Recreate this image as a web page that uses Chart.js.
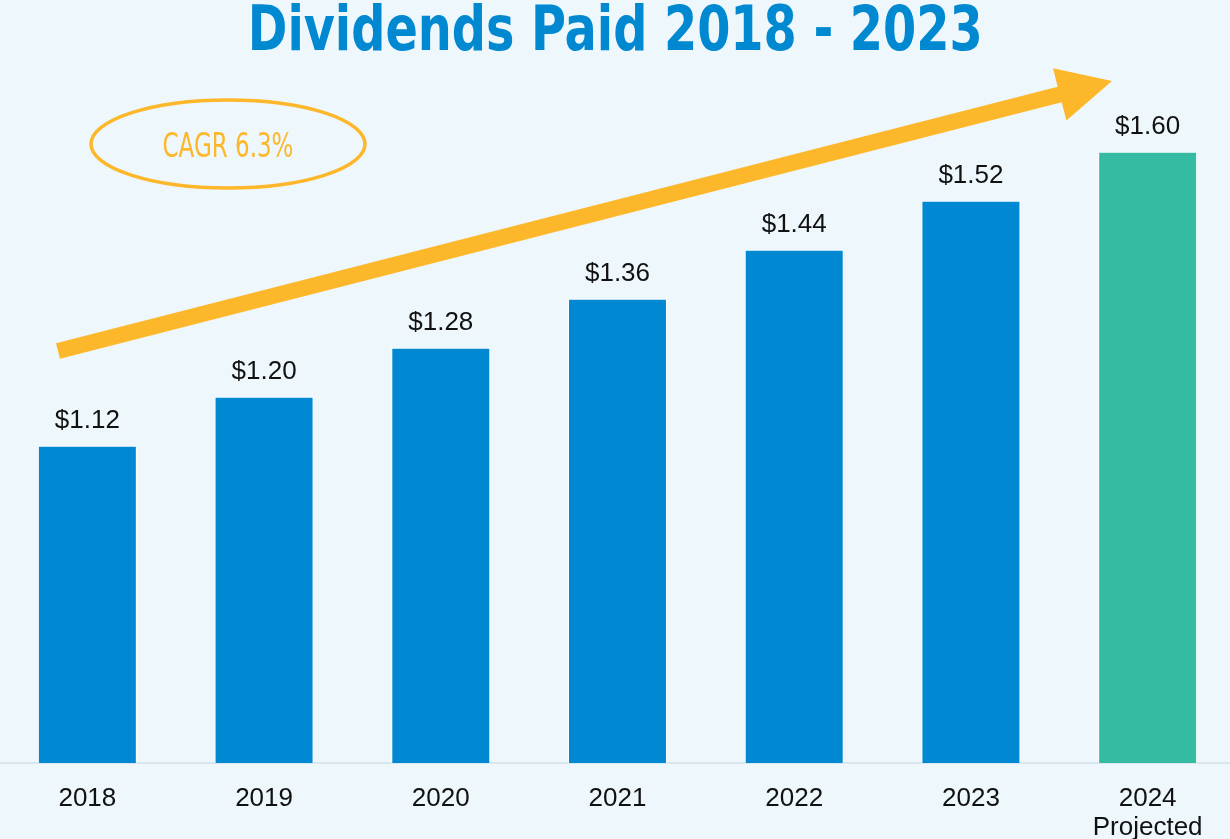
<!DOCTYPE html>
<html>
<head>
<meta charset="utf-8">
<script src="https://cdn.jsdelivr.net/npm/chart.js@4"></script>
<style>
  html, body { margin: 0; padding: 0; background: #EEF7FC; overflow: hidden; }
  #wrap { position: absolute; left: -1px; top: 0; width: 1237px; height: 839px; }
  #title {
    position: absolute; left: 0; top: -3px; width: 1230px; text-align: center;
    margin: 0; line-height: 1;
  }
  #title span {
    display: inline-block; white-space: nowrap;
    font-family: "DejaVu Sans Condensed", "Liberation Sans", Arial, sans-serif;
    font-weight: bold; font-size: 63px; color: #0089D1;
    transform-origin: center top;
  }
</style>
</head>
<body>
<div id="wrap"><canvas id="barChart"></canvas></div>
<div id="title"><span id="titleText">Dividends Paid 2018 - 2023</span></div>
<script>
var years = [['2018'], ['2019'], ['2020'], ['2021'], ['2022'], ['2023'], ['2024', 'Projected']];
var dividends = [1.12, 1.20, 1.28, 1.36, 1.44, 1.52, 1.60];
var barColors = ['#0089D2', '#0089D2', '#0089D2', '#0089D2', '#0089D2', '#0089D2', '#35BBA1'];
var cagrText = 'CAGR 6.3%';

// squeeze the title to a narrow look (no narrow font installed)
var t = document.getElementById('titleText');
t.style.transform = 'scaleX(' + (735 / t.getBoundingClientRect().width) + ')';

// value labels above bars
var valueLabels = {
    id: 'valueLabels',
    afterDatasetsDraw: function (chart) {
        var ctx = chart.ctx;
        var meta = chart.getDatasetMeta(0);
        ctx.save();
        ctx.font = '26px "Liberation Sans", Arial, sans-serif';
        ctx.fillStyle = '#111111';
        ctx.textAlign = 'center';
        ctx.textBaseline = 'alphabetic';
        meta.data.forEach(function (bar, i) {
            ctx.fillText('$' + dividends[i].toFixed(2), bar.x, bar.y - 18);
        });
        ctx.restore();
    }
};

// growth arrow and CAGR bubble
var growthArrow = {
    id: 'growthArrow',
    afterDraw: function (chart) {
        var ctx = chart.ctx;
        var off = 1; // canvas is shifted 1px left
        var sx = 58 + off, sy = 351, tx = 1112 + off, ty = 81;
        var dx = tx - sx, dy = ty - sy;
        var len = Math.sqrt(dx * dx + dy * dy);
        var ux = dx / len, uy = dy / len;
        var nx = -uy, ny = ux;
        var bx = tx - ux * 54, by = ty - uy * 54;
        var sw = 8, hw = 27;
        ctx.save();
        ctx.fillStyle = '#FDB72A';
        ctx.beginPath();
        ctx.moveTo(sx + nx * sw, sy + ny * sw);
        ctx.lineTo(bx + nx * sw, by + ny * sw);
        ctx.lineTo(bx + nx * hw, by + ny * hw);
        ctx.lineTo(tx, ty);
        ctx.lineTo(bx - nx * hw, by - ny * hw);
        ctx.lineTo(bx - nx * sw, by - ny * sw);
        ctx.lineTo(sx - nx * sw, sy - ny * sw);
        ctx.closePath();
        ctx.fill();

        ctx.strokeStyle = '#FDB72A';
        ctx.lineWidth = 3.5;
        ctx.beginPath();
        ctx.ellipse(228 + off, 144, 137, 44, 0, 0, Math.PI * 2);
        ctx.stroke();

        ctx.fillStyle = '#FDB72A';
        ctx.font = '33px "DejaVu Sans Condensed", "Liberation Sans", Arial, sans-serif';
        ctx.textAlign = 'center';
        ctx.textBaseline = 'alphabetic';
        var k = 131 / ctx.measureText(cagrText).width;
        ctx.translate(228 + off, 157);
        ctx.scale(k, 1);
        ctx.fillText(cagrText, 0, 0);
        ctx.restore();
    }
};

var ctx = document.getElementById('barChart').getContext('2d');
var myBarChart = new Chart(ctx, {
    type: 'bar',
    data: {
        labels: years,
        datasets: [{
            data: dividends,
            backgroundColor: barColors,
            borderColor: '#FFFFFF',
            borderWidth: 1,
            barPercentage: 0.56,
            categoryPercentage: 1.0
        }]
    },
    options: {
        responsive: true,
        maintainAspectRatio: false,
        animation: false,
        layout: { padding: 0 },
        plugins: {
            legend: { display: false },
            tooltip: { enabled: false }
        },
        scales: {
            x: {
                grid: { display: false, drawTicks: false },
                border: { display: true, color: '#D8E6EE', width: 2 },
                ticks: {
                    color: '#111111',
                    padding: 21,
                    maxRotation: 0,
                    font: { family: '"Liberation Sans", Arial, sans-serif', size: 26, lineHeight: 1.12 }
                },
                afterFit: function (scale) { scale.height = 76; }
            },
            y: {
                display: false,
                min: 0.602,
                max: 1.848
            }
        }
    },
    plugins: [valueLabels, growthArrow]
});
</script>
</body>
</html>
